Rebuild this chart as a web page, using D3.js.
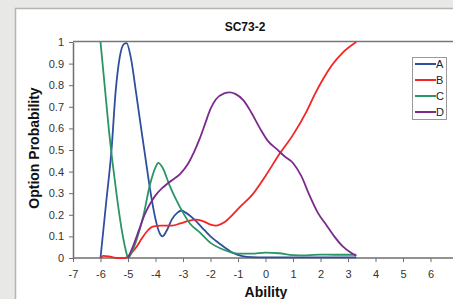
<!DOCTYPE html>
<html>
<head>
<meta charset="utf-8">
<script src="https://cdn.jsdelivr.net/npm/d3@7"></script>
<style>
  body { margin: 0; background: #e8e8e6; }
  svg { display: block; font-family: "Liberation Sans", Arial, sans-serif; }
  .axis path, .axis line { stroke: #6e6e6e; }
  .axis text { fill: #333; font-size: 11px; }
</style>
</head>
<body>
<script>
var width = 453, height = 299;

var title = "SC73-2";
var xTicks = [-7, -6, -5, -4, -3, -2, -1, 0, 1, 2, 3, 4, 5, 6];
var yTicks = [0, 0.1, 0.2, 0.3, 0.4, 0.5, 0.6, 0.7, 0.8, 0.9, 1];
var options = ["A", "B", "C", "D"];
var colors = ["#2e4f9e", "#f42525", "#2a9565", "#7a2b8c"];

// option A (blue)
var seriesA = [[-6.0,0],[-5.8,0.25],[-5.6,0.5],[-5.45,0.77],[-5.3,0.93],[-5.15,0.99],[-5.05,0.995],
  [-4.9,0.93],[-4.7,0.76],[-4.5,0.58],[-4.35,0.45],[-4.2,0.32],[-4.0,0.18],[-3.85,0.115],[-3.75,0.1],
  [-3.6,0.125],[-3.4,0.18],[-3.2,0.21],[-3.05,0.22],[-2.9,0.21],[-2.6,0.18],[-2.3,0.14],[-2.0,0.1],
  [-1.6,0.06],[-1.2,0.025],[-0.8,0.008],[-0.5,0.004],[0,0.003],[1,0.003],[2,0.003],[3.3,0.003]];
// option B (red)
var seriesB = [[-6.0,0],[-5.9,0.01],[-5.7,0.008],[-5.4,0],[-5.1,0],[-4.9,0.02],[-4.7,0.05],[-4.5,0.09],
  [-4.3,0.125],[-4.1,0.145],[-3.8,0.15],[-3.4,0.15],[-3.1,0.16],[-2.8,0.172],[-2.55,0.178],[-2.3,0.172],
  [-2.0,0.155],[-1.8,0.15],[-1.5,0.165],[-1.2,0.2],[-0.9,0.24],[-0.5,0.29],[0,0.38],[0.5,0.48],
  [1.0,0.57],[1.5,0.68],[1.8,0.76],[2.1,0.83],[2.4,0.89],[2.8,0.95],[3.3,1.0]];
// option C (green)
var seriesC = [[-6.0,1.0],[-5.85,0.8],[-5.7,0.6],[-5.55,0.43],[-5.4,0.28],[-5.2,0.11],[-5.05,0.02],
  [-5.0,0],[-4.85,0.03],[-4.65,0.1],[-4.45,0.19],[-4.2,0.34],[-4.0,0.42],[-3.9,0.44],[-3.75,0.42],
  [-3.5,0.34],[-3.25,0.27],[-3.0,0.21],[-2.75,0.16],[-2.4,0.12],[-2.0,0.07],[-1.65,0.045],[-1.3,0.028],
  [-1.0,0.02],[-0.5,0.02],[0,0.025],[0.5,0.022],[1.0,0.013],[1.5,0.012],[2.0,0.016],[2.5,0.015],[3.3,0.015]];
// option D (purple)
var seriesD = [[-5.0,0],[-4.8,0.06],[-4.6,0.13],[-4.4,0.2],[-4.2,0.25],[-4.0,0.29],[-3.7,0.33],
  [-3.4,0.36],[-3.1,0.39],[-2.8,0.44],[-2.6,0.49],[-2.4,0.55],[-2.2,0.62],[-2.0,0.69],[-1.8,0.735],
  [-1.5,0.762],[-1.3,0.767],[-1.1,0.76],[-0.8,0.73],[-0.5,0.67],[-0.2,0.6],[0.1,0.54],[0.4,0.505],
  [0.7,0.47],[1.0,0.44],[1.3,0.38],[1.6,0.29],[1.9,0.21],[2.2,0.155],[2.5,0.1],[2.8,0.055],
  [3.1,0.025],[3.3,0.01]];

var series = [seriesA, seriesB, seriesC, seriesD];

var svg = d3.select("body").append("svg")
    .attr("width", width)
    .attr("height", height);

// chart area (white panel, runs off the right/bottom edge)
svg.append("rect")
    .attr("x", 15.5).attr("y", 8.5)
    .attr("width", 500).attr("height", 400)
    .style("fill", "#fff")
    .style("stroke", "#b4b4b4")
    .style("stroke-width", 1.5);

var x = d3.scaleLinear().domain([-7, 7]).range([73, 458]),
    y = d3.scaleLinear().domain([0, 1]).range([258, 42]);

// plot area top border
svg.append("line")
    .attr("x1", x(-7)).attr("x2", width)
    .attr("y1", y(1) - 0.5).attr("y2", y(1) - 0.5)
    .style("stroke", "#777")
    .style("stroke-width", 1.5);

svg.append("g")
    .attr("class", "axis")
    .attr("transform", "translate(0," + y(0) + ")")
    .call(d3.axisBottom(x).tickValues(xTicks).tickFormat(function(d) { return String(d); })
        .tickSize(4).tickSizeOuter(0).tickPadding(8))
    .call(function(g) { g.select(".domain").attr("d", "M" + x(-7) + ",0H" + width).style("stroke-width", 1.5); });

svg.append("g")
    .attr("class", "axis")
    .attr("transform", "translate(" + x(-7) + ",0)")
    .call(d3.axisLeft(y).tickValues(yTicks).tickFormat(function(d) { return String(d); })
        .tickSize(4).tickSizeOuter(0).tickPadding(5))
    .call(function(g) { g.select(".domain").style("stroke-width", 1.5); });

var line = d3.line()
    .x(function(d) { return x(d[0]); })
    .y(function(d) { return y(d[1]); })
    .curve(d3.curveMonotoneX);

svg.selectAll(".series")
    .data(series)
    .enter().append("path")
    .attr("class", "series")
    .attr("d", line)
    .style("fill", "none")
    .style("stroke", function(d, i) { return colors[i]; })
    .style("stroke-width", 1.8)
    .style("stroke-linejoin", "round");

// title and axis labels
svg.append("text")
    .attr("x", 245).attr("y", 31)
    .attr("text-anchor", "middle")
    .style("font-size", "12px").style("font-weight", "bold").style("fill", "#111")
    .text(title);

svg.append("text")
    .attr("x", 266).attr("y", 297)
    .attr("text-anchor", "middle")
    .style("font-size", "14px").style("font-weight", "bold").style("fill", "#111")
    .text("Ability");

svg.append("text")
    .attr("transform", "translate(39,148) rotate(-90)")
    .attr("text-anchor", "middle")
    .style("font-size", "14px").style("font-weight", "bold").style("fill", "#111")
    .text("Option Probability");

// legend
var legend = svg.append("g").attr("transform", "translate(412,57)");
legend.append("rect")
    .attr("x", 0.5).attr("y", 0.5)
    .attr("width", 34).attr("height", 62)
    .style("fill", "#fff")
    .style("stroke", "#999");

var item = legend.selectAll(".item")
    .data(options)
    .enter().append("g")
    .attr("class", "item")
    .attr("transform", function(d, i) { return "translate(0," + (7 + i * 16) + ")"; });

item.append("line")
    .attr("x1", 3).attr("x2", 24)
    .style("stroke", function(d, i) { return colors[i]; })
    .style("stroke-width", 2);

item.append("text")
    .attr("x", 24).attr("y", 4)
    .style("font-size", "11px").style("fill", "#222")
    .text(function(d) { return d; });
</script>
</body>
</html>
